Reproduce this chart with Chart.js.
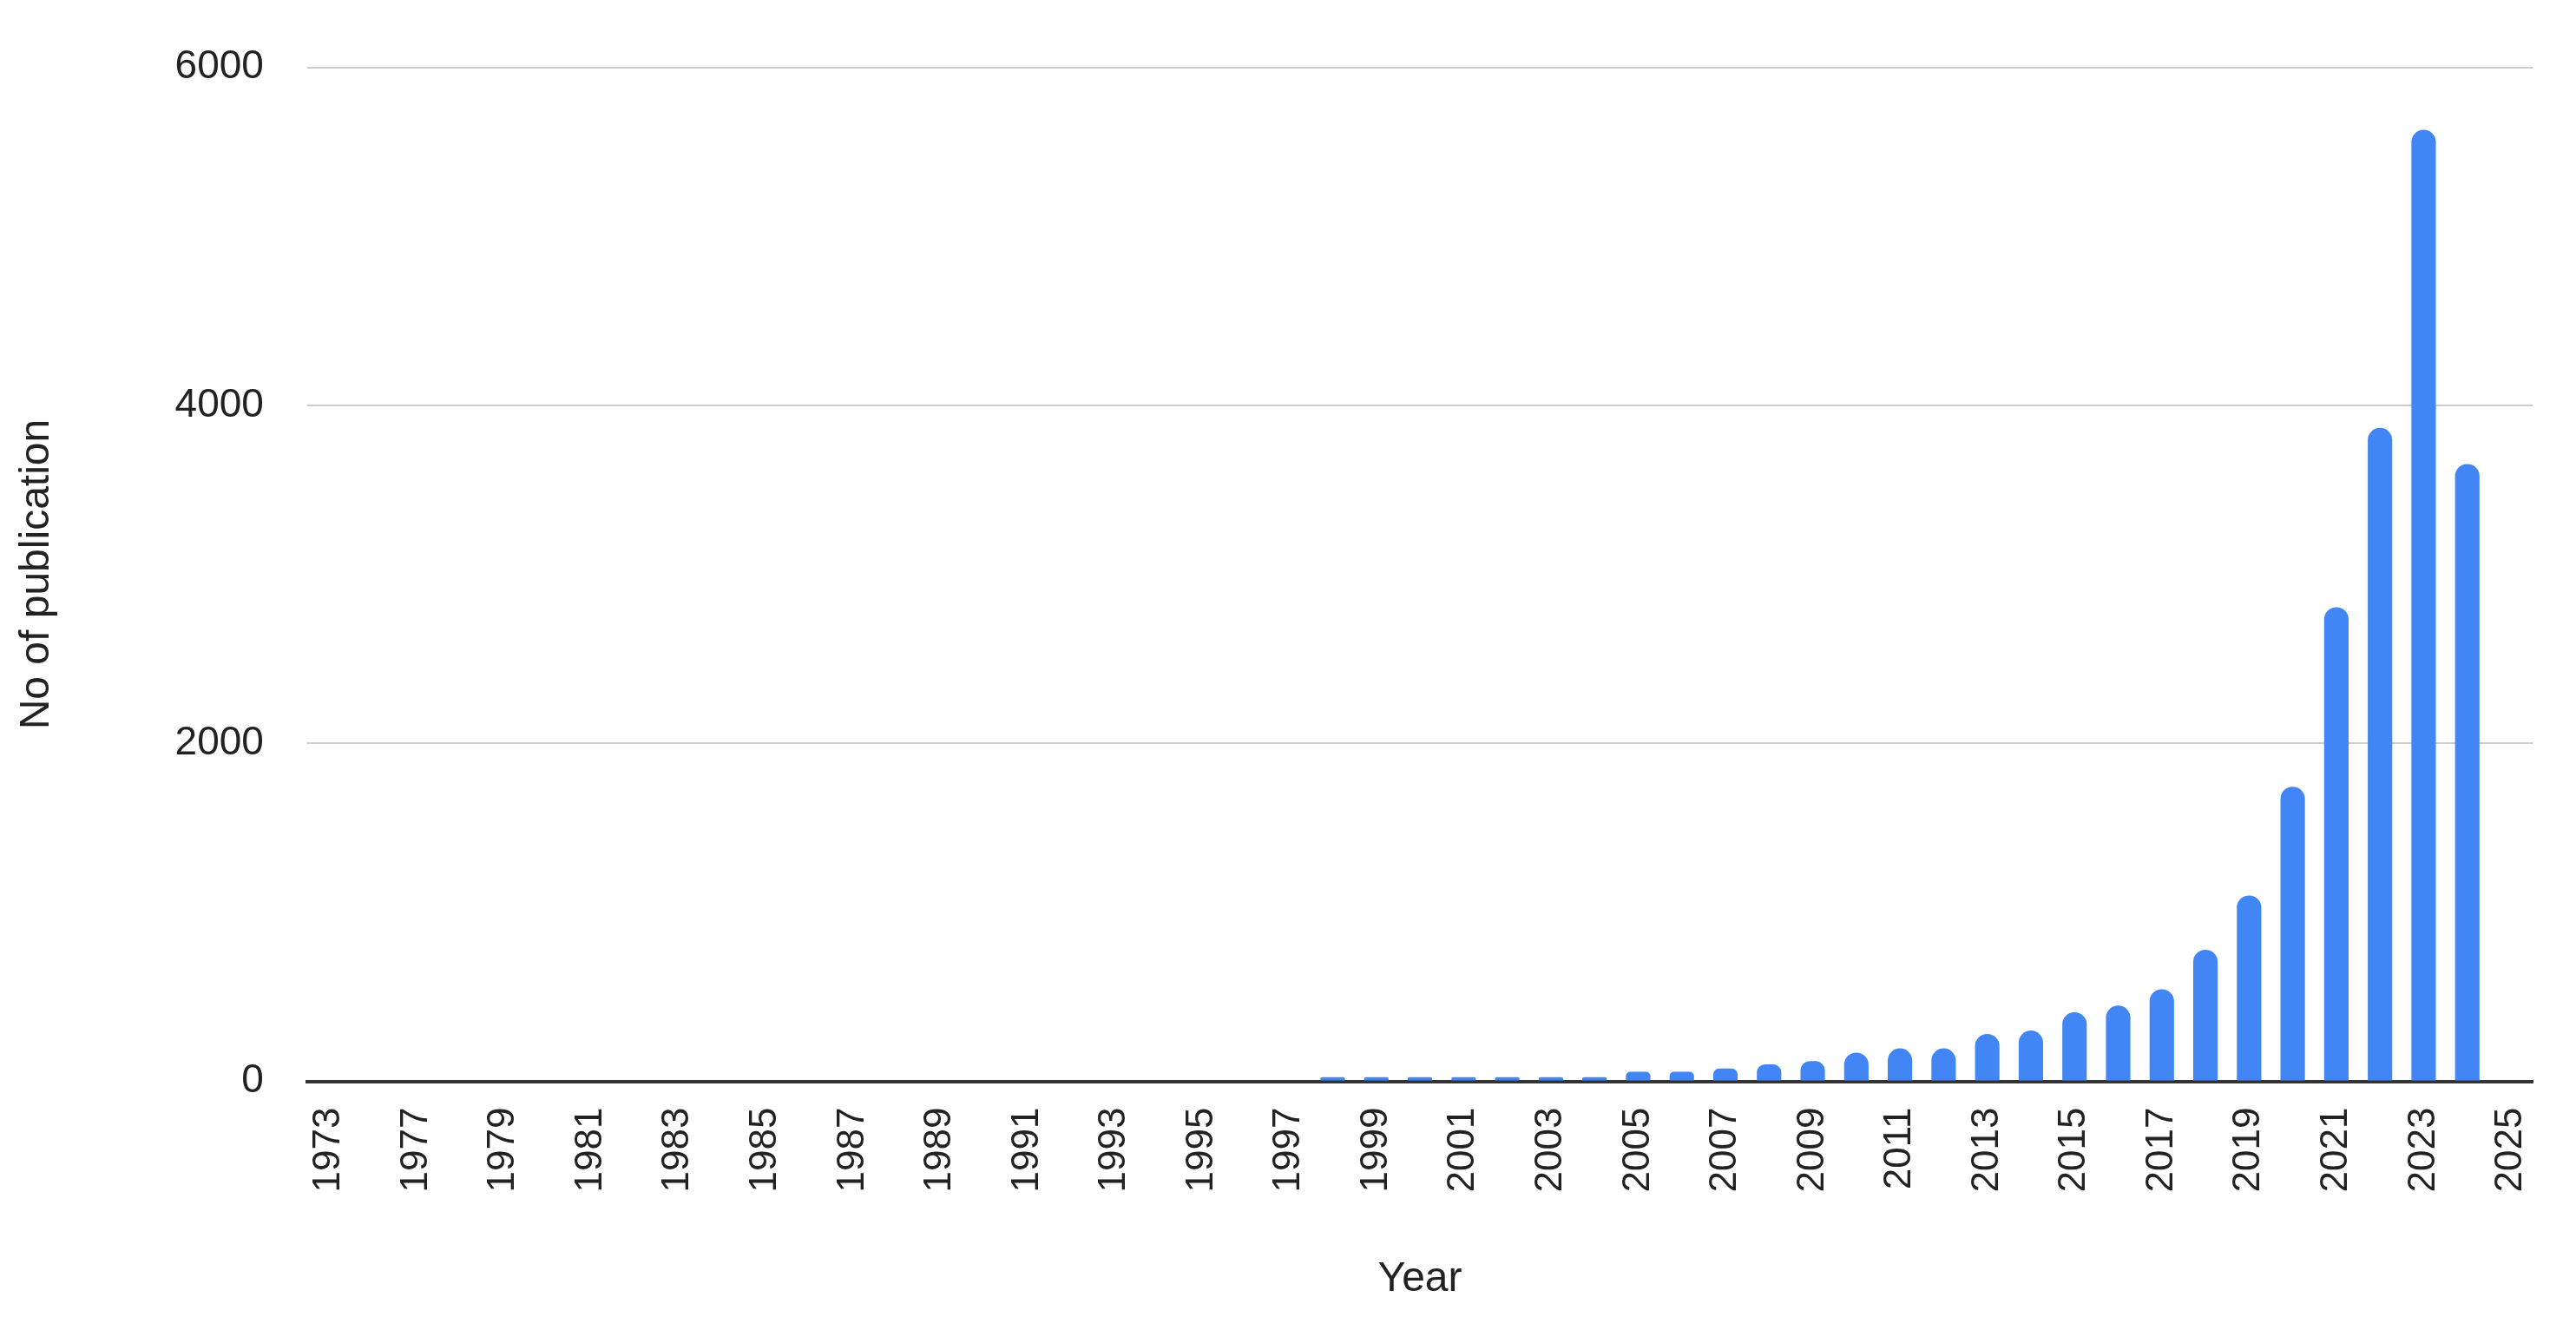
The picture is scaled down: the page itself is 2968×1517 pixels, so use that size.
<!DOCTYPE html>
<html>
<head>
<meta charset="utf-8">
<script src="https://cdn.jsdelivr.net/npm/chart.js@4"></script>
<style>
  html, body { margin: 0; padding: 0; background: #fff; }
  #wrap { width: 2968px; height: 1517px; }
</style>
</head>
<body>
<div id="wrap"><canvas id="chart"></canvas></div>
<script>
// Data
const years = ["1973"];
for (let y = 1976; y <= 2025; y++) years.push(String(y));

const pubYears = [1998, 1999, 2000, 2001, 2002, 2003, 2004, 2005, 2006, 2007, 2008, 2009, 2010,
  2011, 2012, 2013, 2014, 2015, 2016, 2017, 2018, 2019, 2020, 2021, 2022, 2023, 2024];
const pubCounts = [25, 25, 25, 25, 25, 25, 25, 56, 56, 76, 100, 119, 170,
  195, 195, 280, 300, 409, 448, 545, 779, 1100, 1743, 2805, 3867, 5630, 3653];

const yTicks = [0, 2000, 4000, 6000];

const counts = years.map(y => {
  const i = pubYears.indexOf(Number(y));
  return i >= 0 ? pubCounts[i] : 0;
});

Chart.defaults.font.family = "'Liberation Sans', Arial, sans-serif";
Chart.defaults.color = "#222";

new Chart(document.getElementById("chart"), {
  type: "bar",
  data: {
    labels: years,
    datasets: [{
      label: "No of publication",
      data: counts,
      backgroundColor: "#4285f4",
      borderRadius: { topLeft: 14, topRight: 14 },
      borderSkipped: "bottom",
      categoryPercentage: 1,
      barPercentage: 0.56
    }]
  },
  options: {
    responsive: true,
    maintainAspectRatio: false,
    animation: false,
    devicePixelRatio: 1,
    layout: { padding: { top: 20, right: 20, left: 10, bottom: 10 } },
    plugins: { legend: { display: false }, tooltip: { enabled: false } },
    scales: {
      x: {
        grid: { display: false },
        border: { color: "#333", width: 4 },
        ticks: {
          font: { size: 44 },
          minRotation: 90,
          maxRotation: 90,
          autoSkip: false,
          padding: 22,
          callback: (v, i) => (i % 2 === 0 ? years[i] : "")
        },
        title: { display: true, text: "Year", font: { size: 48 }, padding: { top: 50 } }
      },
      y: {
        min: 0,
        max: 6000,
        afterBuildTicks: axis => { axis.ticks = yTicks.map(v => ({ value: v })); },
        grid: { color: "#cccccc", lineWidth: 2, drawTicks: false },
        border: { display: false },
        ticks: { font: { size: 46 }, padding: 50, callback: v => String(v) },
        title: { display: true, text: "No of publication", font: { size: 48 }, padding: { bottom: 80 } }
      }
    }
  }
});
</script>
</body>
</html>
